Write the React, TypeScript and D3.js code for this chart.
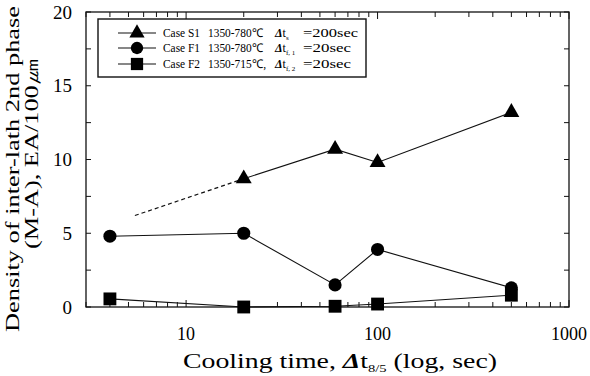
import React, { useEffect, useRef } from 'react';
import * as d3 from 'd3';

// Cooling time (s) and density (EA/100um)
const caseS1Time = [20, 60, 100, 500];
const caseS1Density = [8.7, 10.7, 9.8, 13.2];
const caseS1ExtraTime = [5.4, 20];
const caseS1ExtraDensity = [6.2, 8.7];

const caseF1Time = [4, 20, 60, 100, 500];
const caseF1Density = [4.8, 5.0, 1.5, 3.9, 1.3];

const caseF2Time = [4, 20, 60, 100, 500];
const caseF2Density = [0.55, 0.0, 0.05, 0.2, 0.8];

const xTickLabels = [10, 100, 1000];
const yTickLabels = [0, 5, 10, 15, 20];

const legendRows = [
  { name: 'Case S1', temp: '1350-780℃', sub: 's', value: '=200sec', symbol: d3.symbolTriangle },
  { name: 'Case F1', temp: '1350-780℃', sub: 'f, 1', value: '=20sec', symbol: d3.symbolCircle },
  { name: 'Case F2', temp: '1350-715℃,', sub: 'f, 2', value: '=20sec', symbol: d3.symbolSquare },
];

const FONT = "'Liberation Serif', 'Times New Roman', serif";

const App: React.FC = () => {
  const svgRef = useRef<SVGSVGElement>(null);

  useEffect(() => {
    if (!svgRef.current) return;
    const W = 590;
    const H = 376;
    const margin = { top: 12, right: 21, bottom: 69, left: 86 };
    const width = W - margin.left - margin.right;
    const height = H - margin.top - margin.bottom;

    const root = d3.select(svgRef.current);
    root.selectAll('*').remove();
    root.attr('width', W).attr('height', H);

    root.append('rect').attr('width', W).attr('height', H).attr('fill', '#fff');

    const svg = root.append('g').attr('transform', `translate(${margin.left},${margin.top})`);

    const x = d3.scaleLog().domain([3, 1000]).range([0, width]);
    const y = d3.scaleLinear().domain([0, 20]).range([height, 0]);

    // frame
    svg.append('rect')
      .attr('width', width)
      .attr('height', height)
      .attr('fill', 'none')
      .attr('stroke', '#111')
      .attr('stroke-width', 1.3);

    // x ticks (inward, bottom and top)
    const xTicks = x.ticks().filter(t => t >= 3 && t <= 1000);
    xTicks.forEach(t => {
      const major = Math.abs(Math.log10(t) - Math.round(Math.log10(t))) < 1e-9;
      const len = major ? 7 : 5;
      svg.append('line')
        .attr('x1', x(t)).attr('x2', x(t))
        .attr('y1', height).attr('y2', height - len)
        .attr('stroke', '#111');
      svg.append('line')
        .attr('x1', x(t)).attr('x2', x(t))
        .attr('y1', 0).attr('y2', len)
        .attr('stroke', '#111');
    });

    // y ticks (inward, left and right)
    d3.range(0, 20.01, 2.5).forEach(t => {
      const len = 5;
      svg.append('line')
        .attr('x1', 0).attr('x2', len)
        .attr('y1', y(t)).attr('y2', y(t))
        .attr('stroke', '#111');
      svg.append('line')
        .attr('x1', width).attr('x2', width - len)
        .attr('y1', y(t)).attr('y2', y(t))
        .attr('stroke', '#111');
    });

    // tick labels
    svg.selectAll('.xlab')
      .data(xTickLabels)
      .enter()
      .append('text')
      .attr('x', d => x(d))
      .attr('y', height + 33)
      .attr('text-anchor', 'middle')
      .style('font-family', FONT)
      .style('font-size', '18px')
      .text(d => d);

    svg.selectAll('.ylab')
      .data(yTickLabels)
      .enter()
      .append('text')
      .attr('x', -14)
      .attr('y', d => y(d))
      .attr('dy', '0.35em')
      .attr('text-anchor', 'end')
      .style('font-family', FONT)
      .style('font-size', '19px')
      .text(d => d);

    // lines
    const line = d3.line<[number, number]>()
      .x(d => x(d[0]))
      .y(d => y(d[1]));

    const series = [
      { t: caseS1Time, v: caseS1Density, symbol: d3.symbolTriangle, size: 110 },
      { t: caseF1Time, v: caseF1Density, symbol: d3.symbolCircle, size: 135 },
      { t: caseF2Time, v: caseF2Density, symbol: d3.symbolSquare, size: 165 },
    ];

    svg.append('path')
      .attr('d', line(caseS1ExtraTime.map((t, i) => [t, caseS1ExtraDensity[i]] as [number, number])))
      .attr('fill', 'none')
      .attr('stroke', '#111')
      .attr('stroke-width', 1.2)
      .attr('stroke-dasharray', '4,3');

    series.forEach(s => {
      const pts = s.t.map((t, i) => [t, s.v[i]] as [number, number]);
      svg.append('path')
        .attr('d', line(pts))
        .attr('fill', 'none')
        .attr('stroke', '#111')
        .attr('stroke-width', 1.1);
      svg.selectAll(null)
        .data(pts)
        .enter()
        .append('path')
        .attr('transform', d => `translate(${x(d[0])},${y(d[1])})`)
        .attr('d', d3.symbol().type(s.symbol).size(s.size)())
        .attr('fill', '#000');
    });

    // legend
    const legend = root.append('g');
    legend.append('rect')
      .attr('x', 98).attr('y', 19)
      .attr('width', 268).attr('height', 58)
      .attr('fill', '#fff')
      .attr('stroke', '#111')
      .attr('stroke-width', 1.4);

    const rowY = [33, 48, 64];
    const markerSize = [100, 120, 150];
    legendRows.forEach((r, i) => {
      const g = legend.append('g').attr('transform', `translate(0,${rowY[i]})`);
      g.append('line')
        .attr('x1', 118).attr('x2', 156)
        .attr('y1', 0).attr('y2', 0)
        .attr('stroke', '#111')
        .attr('stroke-width', 1.2);
      g.append('path')
        .attr('transform', 'translate(137,0)')
        .attr('d', d3.symbol().type(r.symbol).size(markerSize[i])())
        .attr('fill', '#000');
      const txt = (xx: number, s: string, len: number) =>
        g.append('text')
          .attr('x', xx)
          .attr('y', 4)
          .attr('textLength', len)
          .attr('lengthAdjust', 'spacingAndGlyphs')
          .style('font-family', FONT)
          .style('font-size', '12px')
          .text(s);
      txt(163, r.name, 37);
      txt(208, r.temp, i === 2 ? 58 : 55);
      const dt = g.append('text')
        .attr('x', 275)
        .attr('y', 4)
        .style('font-family', FONT)
        .style('font-size', '12px');
      dt.append('tspan').style('font-style', 'italic').style('font-weight', 'bold').text('Δ');
      dt.append('tspan').text('t');
      dt.append('tspan').attr('dy', 3).style('font-size', '7px').text(r.sub);
      txt(303, r.value, i === 0 ? 55 : 48);
    });

    // x axis title
    const xt = root.append('text')
      .attr('x', 183)
      .attr('y', 368)
      .attr('textLength', 314)
      .attr('lengthAdjust', 'spacingAndGlyphs')
      .style('font-family', FONT)
      .style('font-size', '21px');
    xt.append('tspan').text('Cooling time, ');
    xt.append('tspan').style('font-style', 'italic').style('font-weight', 'bold').text('Δ');
    xt.append('tspan').text('t');
    xt.append('tspan').attr('dy', 4).style('font-size', '11px').text('8/5');
    xt.append('tspan').attr('dy', -4).text('  (log, sec)');

    // y axis title (two lines)
    root.append('text')
      .attr('transform', 'translate(19,169) rotate(-90)')
      .attr('text-anchor', 'middle')
      .attr('textLength', 326)
      .attr('lengthAdjust', 'spacingAndGlyphs')
      .style('font-family', FONT)
      .style('font-size', '19px')
      .text('Density of inter-lath 2nd phase');
    root.append('text')
      .attr('transform', 'translate(38,154) rotate(-90)')
      .attr('text-anchor', 'middle')
      .attr('textLength', 190)
      .attr('lengthAdjust', 'spacingAndGlyphs')
      .style('font-family', FONT)
      .style('font-size', '19px')
      .text('(M-A), EA/100㎛');
  }, []);

  return (
    <div style={{ position: 'absolute', left: 0, top: 0 }}>
      <svg ref={svgRef} style={{ display: 'block' }}></svg>
    </div>
  );
};

export default App;
